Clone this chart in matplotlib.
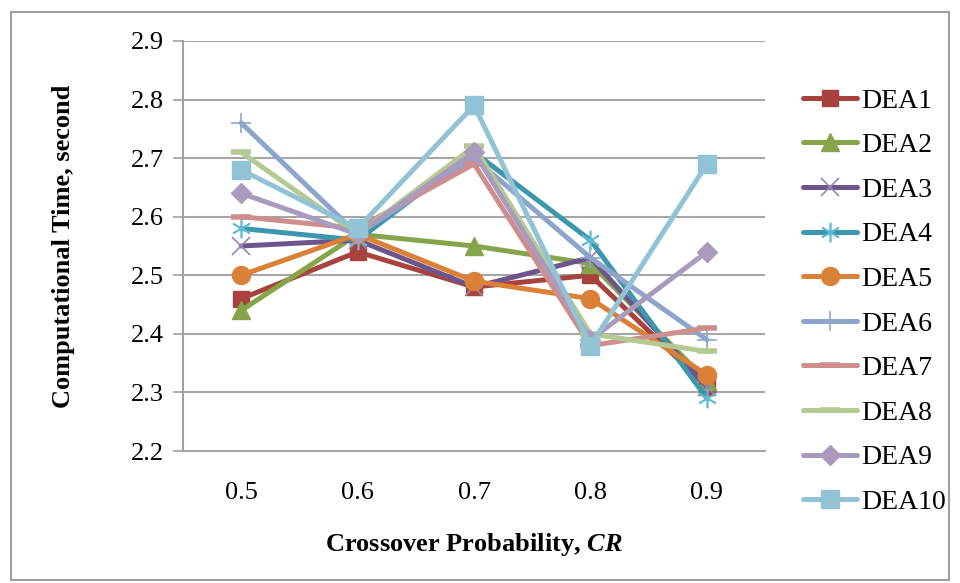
import numpy as np
import matplotlib.pyplot as plt
from matplotlib.patches import Rectangle

# 데이터
cr_labels = ["0.5", "0.6", "0.7", "0.8", "0.9"]
series_names = ["DEA1", "DEA2", "DEA3", "DEA4", "DEA5",
                "DEA6", "DEA7", "DEA8", "DEA9", "DEA10"]
dea1 = [2.46, 2.54, 2.48, 2.50, 2.31]
dea2 = [2.44, 2.57, 2.55, 2.52, 2.32]
dea3 = [2.55, 2.56, 2.48, 2.53, 2.31]
dea4 = [2.58, 2.56, 2.71, 2.56, 2.29]
dea5 = [2.50, 2.57, 2.49, 2.46, 2.33]
dea6 = [2.76, 2.57, 2.70, 2.53, 2.39]
dea7 = [2.60, 2.58, 2.69, 2.38, 2.41]
dea8 = [2.71, 2.57, 2.72, 2.40, 2.37]
dea9 = [2.64, 2.57, 2.71, 2.39, 2.54]
dea10 = [2.68, 2.58, 2.79, 2.38, 2.69]
all_series = [dea1, dea2, dea3, dea4, dea5, dea6, dea7, dea8, dea9, dea10]

# 스타일 (색, 마커, 마커 크기, 마커 색, 테두리 두께)
styles = [
    ("#A8423F", "s", 12, "#A8423F", 1.0),
    ("#86A44A", "^", 13, "#86A44A", 1.0),
    ("#6E548D", "x", 13, "#9886B8", 1.2),
    ("#3C96AE", (6, 2, 0), 14, "#5FBAD3", 1.2),
    ("#DA8137", "o", 13, "#DA8137", 1.0),
    ("#8EA5CB", "+", 15, "#8EA5CB", 1.2),
    ("#CE8E8D", "_", 14, "#CE8E8D", 4.0),
    ("#B5CA92", "_", 14, "#B5CA92", 4.0),
    ("#A99BBD", "D", 10, "#A99BBD", 1.0),
    ("#92C3D4", "s", 13, "#92C3D4", 1.0),
]

plt.rcParams['font.family'] = ['Liberation Serif', 'DejaVu Serif']
plt.rcParams['mathtext.fontset'] = 'custom'
plt.rcParams['mathtext.rm'] = 'Liberation Serif'
plt.rcParams['mathtext.it'] = 'Liberation Serif:italic'
plt.rcParams['mathtext.bf'] = 'Liberation Serif:bold'
plt.rcParams['mathtext.bfit'] = 'Liberation Serif:bold:italic'

fig = plt.figure(figsize=(9.6, 5.83), dpi=100)
ax = fig.add_axes([0.1906, 0.2264, 0.6064, 0.7033])

x = np.arange(len(cr_labels))
for name, ys, (c, m, ms, mec, mew) in zip(series_names, all_series, styles):
    ax.plot(x, ys, color=c, lw=3.6, marker=m, markersize=ms,
            markerfacecolor=mec, markeredgecolor=mec, markeredgewidth=mew,
            label=name, solid_joinstyle='round', solid_capstyle='round')

ax.set_xlim(-0.5, 4.5)
ax.set_ylim(2.2, 2.9)
ax.set_yticks(np.arange(2.2, 2.91, 0.1))
ax.set_yticklabels([f"{v:.1f}" for v in np.arange(2.2, 2.91, 0.1)])
ax.set_xticks(x)
ax.set_xticklabels(cr_labels)
ax.tick_params(axis='y', length=7, width=1.2, color="#A0A0A0", labelsize=19, pad=7)
ax.tick_params(axis='x', length=0, labelsize=19, pad=22)
ax.grid(axis='y', color="#A6A6A6", lw=1.5)
ax.set_axisbelow(True)
for s in ["top", "right"]:
    ax.spines[s].set_visible(False)
ax.spines["left"].set_color("#A0A0A0")
ax.spines["left"].set_linewidth(1.5)
ax.spines["bottom"].set_color("#A6A6A6")
ax.spines["bottom"].set_linewidth(1.5)

ax.set_ylabel("Computational Time, second", fontsize=19, fontweight='bold', labelpad=40)
ax.set_xlabel(r"Crossover Probability, $\mathbfit{CR}$", fontsize=19, fontweight='bold', labelpad=20)

leg = fig.legend(loc="upper left", bbox_to_anchor=(0.825, 0.868), frameon=False,
                 fontsize=20, handlelength=1.95, handletextpad=0.15, labelspacing=0.69,
                 borderaxespad=0)

# 바깥 테두리
fig.patches.append(Rectangle((0.011, 0.005), 0.978, 0.975, transform=fig.transFigure,
                             fill=False, edgecolor="#A0A0A0", lw=1.5))

fig.savefig("out.png", dpi=100)
